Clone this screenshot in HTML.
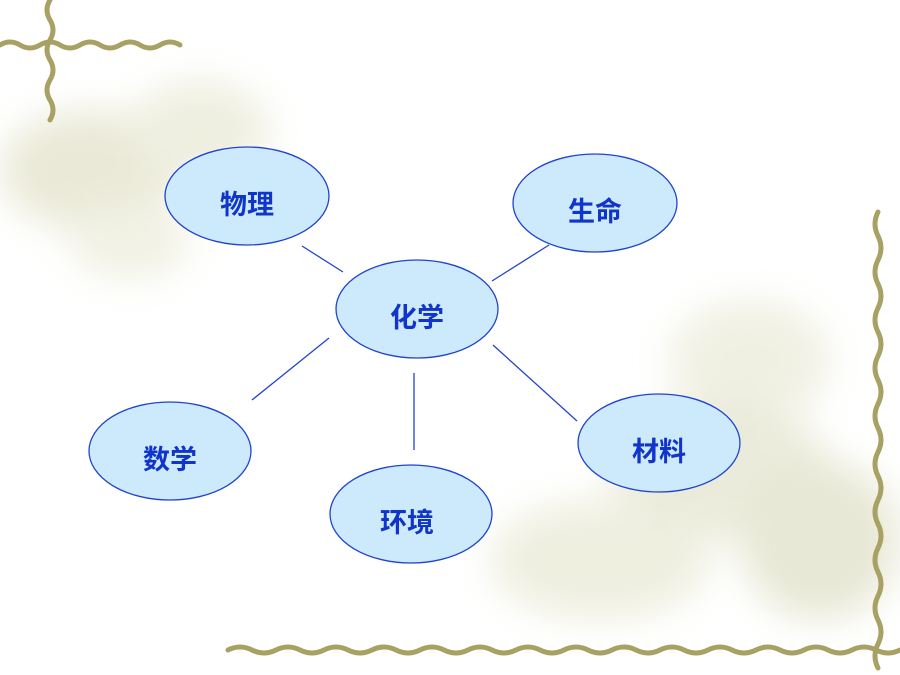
<!DOCTYPE html>
<html><head><meta charset="utf-8"><style>
html,body{margin:0;padding:0;}
body{width:900px;height:675px;overflow:hidden;background:#ffffff;}
svg{display:block}
text{font-family:"Liberation Sans","Noto Sans CJK SC",sans-serif;font-weight:bold;font-size:27px;fill:#1035c8;}
</style></head><body>
<svg width="900" height="675" viewBox="0 0 900 675">
<defs>
<filter id="b" x="-50%" y="-50%" width="200%" height="200%"><feGaussianBlur stdDeviation="18"/></filter>
</defs>
<rect width="900" height="675" fill="#ffffff"/>
<g filter="url(#b)" opacity="0.55">
<ellipse cx="90" cy="170" rx="90" ry="60" fill="#d9d8b8"/>
<ellipse cx="200" cy="130" rx="70" ry="50" fill="#e2e2c8"/>
<ellipse cx="130" cy="240" rx="60" ry="40" fill="#e6e6cf"/>
<ellipse cx="750" cy="360" rx="80" ry="60" fill="#e4e4cc"/>
<ellipse cx="720" cy="470" rx="110" ry="70" fill="#dcdcbf"/>
<ellipse cx="600" cy="560" rx="110" ry="60" fill="#e2e2c8"/>
<ellipse cx="820" cy="540" rx="80" ry="80" fill="#d6d6b6"/>
</g>
<g fill="none" stroke="#a9a063" stroke-width="5" stroke-linecap="round">
<path d="M0,45 q10,-6 20,0 t20,0 t20,0 t20,0 t20,0 t20,0 t20,0 t20,0 t20,0"/>
<path d="M50,0 q-6,10 0,20 t0,20 t0,20 t0,20 t0,20 t0,20"/>
<path d="M878,212 q-6,12 0,24 t0,24 t0,24 t0,24 t0,24 t0,24 t0,24 t0,24 t0,24 t0,24 t0,24 t0,24 t0,24 t0,24 t0,24 t0,24 t0,24 t0,24 t0,24"/>
<path d="M228,650 q12,-6 24,0 t24,0 t24,0 t24,0 t24,0 t24,0 t24,0 t24,0 t24,0 t24,0 t24,0 t24,0 t24,0 t24,0 t24,0 t24,0 t24,0 t24,0 t24,0 t24,0 t24,0 t24,0 t24,0 t24,0 t24,0 t24,0 t24,0 t24,0"/>
</g>
<g stroke="#2244cc" stroke-width="1.3">
<line x1="302" y1="246" x2="343" y2="272"/>
<line x1="492" y1="281" x2="549" y2="245"/>
<line x1="329" y1="338" x2="252" y2="400"/>
<line x1="414" y1="373" x2="414" y2="450"/>
<line x1="493" y1="345" x2="577" y2="421"/>
</g>
<g fill="#cdeafd" stroke="#2244cc" stroke-width="1.3">
<ellipse cx="247" cy="196" rx="82" ry="49"/>
<ellipse cx="595" cy="203" rx="82" ry="49"/>
<ellipse cx="417" cy="309" rx="81" ry="49"/>
<ellipse cx="170" cy="451" rx="81" ry="49"/>
<ellipse cx="411" cy="514" rx="81" ry="49"/>
<ellipse cx="659" cy="443" rx="81" ry="49"/>
</g>
<g text-anchor="middle">
<text x="247" y="214">物理</text>
<text x="595" y="221">生命</text>
<text x="417" y="327">化学</text>
<text x="170" y="469">数学</text>
<text x="407" y="532">环境</text>
<text x="659" y="461">材料</text>
</g>
</svg>
</body></html>
